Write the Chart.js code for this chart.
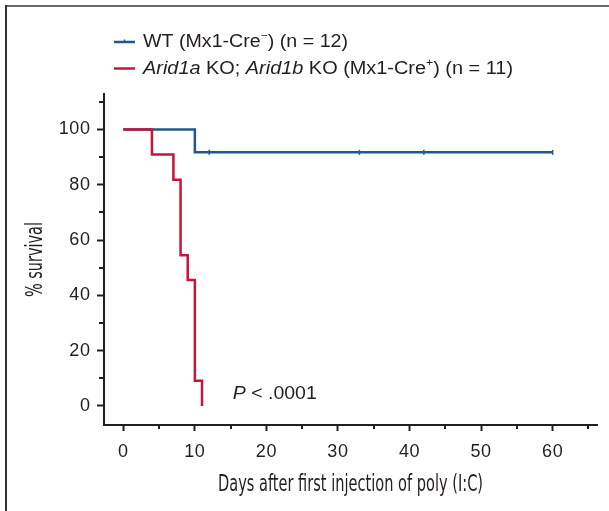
<!DOCTYPE html>
<html>
<head>
<meta charset="utf-8">
<script src="https://cdn.jsdelivr.net/npm/chart.js@4.4.1/dist/chart.umd.min.js"></script>
<style>
html, body { margin: 0; padding: 0; background: #fff; }
#km-wrap { width: 609px; height: 511px; position: relative; }
</style>
</head>
<body>
<div id="km-wrap"><canvas id="kmChart" width="609" height="511"></canvas></div>
<script>
// values
const wtDays = [0, 10, 60];
const wtSurvival = [100, 91.7, 91.7];
const wtCensorDays = [12, 33, 42, 60];
const wtCensorSurvival = [91.7, 91.7, 91.7, 91.7];
const koDays = [0, 4, 7, 8, 9, 10, 11];
const koSurvival = [100, 90.9, 81.8, 54.5, 45.5, 9.1, 0];

const xTicks = [0, 10, 20, 30, 40, 50, 60];
const yTicks = [0, 20, 40, 60, 80, 100];
const xMinorTicks = [5, 15, 25, 35, 45, 55, 65];
const yMinorTicks = [10, 30, 50, 70, 90, 110];

const xTitle = 'Days after first injection of poly (I:C)';
const yTitle = '% survival';
const wtLegend = [{ t: 'WT (Mx1-Cre' }, { t: '\u2212', sup: true }, { t: ') (n = 12)' }];
const koLegend = [{ t: 'Arid1a', it: true }, { t: ' KO; ' }, { t: 'Arid1b', it: true },
                  { t: ' KO (Mx1-Cre' }, { t: '+', sup: true }, { t: ') (n = 11)' }];
const pLabel = [{ t: 'P', it: true }, { t: ' < .0001' }];

const FONT = '"Liberation Sans", Arial, sans-serif';
const NARROW = '"Liberation Sans Narrow", "DejaVu Sans Condensed", "Liberation Sans", sans-serif';
const INK = '#231f20';
const WT_COLOR = '#1f5a8e';
const KO_COLOR = '#c8143a';

function toPoints(xs, ys) {
    return xs.map((x, i) => ({ x: x, y: ys[i] }));
}

function runFont(r, size) {
    const sz = r.sup ? size * 0.62 : size;
    return (r.it ? 'italic ' : '') + sz + 'px ' + FONT;
}

// draws mixed italic / superscript text, stretched to a given width if asked
function drawRuns(ctx, runs, x, y, size, targetWidth) {
    let total = 0;
    runs.forEach(r => { ctx.font = runFont(r, size); total += ctx.measureText(r.t).width; });
    const sx = targetWidth ? targetWidth / total : 1;
    ctx.save();
    ctx.translate(x, y);
    ctx.scale(sx, 1);
    ctx.textAlign = 'left';
    ctx.textBaseline = 'middle';
    let cx = 0;
    runs.forEach(r => {
        ctx.font = runFont(r, size);
        ctx.fillText(r.t, cx, r.sup ? -size * 0.36 : 0);
        cx += ctx.measureText(r.t).width;
    });
    ctx.restore();
}

function drawSqueezed(ctx, text, cx, cy, size, targetWidth, angle) {
    ctx.save();
    ctx.translate(cx, cy);
    ctx.rotate(angle);
    ctx.font = size + 'px ' + NARROW;
    const w = ctx.measureText(text).width;
    ctx.scale(targetWidth / w, 1);
    ctx.textAlign = 'center';
    ctx.textBaseline = 'alphabetic';
    ctx.fillText(text, 0, 0);
    ctx.restore();
}

function seg(ctx, x1, y1, x2, y2) {
    ctx.beginPath();
    ctx.moveTo(x1, y1);
    ctx.lineTo(x2, y2);
    ctx.stroke();
}

const decorPlugin = {
    id: 'decor',
    beforeDraw(chart) {
        // the tick numerals in the figure are a little loosely spaced
        chart.ctx.letterSpacing = '0.6px';
    },
    afterDraw(chart) {
        const ctx = chart.ctx;
        const area = chart.chartArea;
        const xs = chart.scales.x, ys = chart.scales.y;
        ctx.letterSpacing = '0px';
        ctx.save();

        // figure frame (top and left only)
        ctx.lineWidth = 2;
        ctx.strokeStyle = '#6b6b6b';
        seg(ctx, 5, 6, chart.width, 6);
        ctx.strokeStyle = '#333';
        seg(ctx, 6, 5, 6, chart.height);

        // minor ticks
        ctx.strokeStyle = INK;
        ctx.lineWidth = 2;
        xMinorTicks.forEach(v => {
            const px = Math.round(xs.getPixelForValue(v));
            seg(ctx, px, area.bottom, px, area.bottom + 4);
        });
        yMinorTicks.forEach(v => {
            const py = Math.round(ys.getPixelForValue(v));
            seg(ctx, area.left, py, area.left - 5, py);
        });

        // legend
        ctx.lineWidth = 2.5;
        ctx.strokeStyle = WT_COLOR;
        seg(ctx, 114, 42, 135, 42);
        ctx.lineWidth = 1.5;
        seg(ctx, 124.5, 42, 124.5, 39.5);
        ctx.lineWidth = 2.5;
        ctx.strokeStyle = KO_COLOR;
        seg(ctx, 114, 68.5, 135, 68.5);
        ctx.fillStyle = INK;
        drawRuns(ctx, wtLegend, 143, 42, 18, 205);
        drawRuns(ctx, koLegend, 143, 69, 18, 370);

        // p value
        drawRuns(ctx, pLabel, xs.getPixelForValue(15.3), ys.getPixelForValue(4.3), 19, 84);

        // axis titles in a condensed face
        drawSqueezed(ctx, xTitle, 350.5, 490.5, 23, 265, 0);
        drawSqueezed(ctx, yTitle, 42, 259.5, 23, 75, -Math.PI / 2);

        ctx.restore();
    }
};

new Chart(document.getElementById('kmChart'), {
    type: 'line',
    data: {
        datasets: [
            {
                label: 'KO',
                data: toPoints(koDays, koSurvival),
                borderColor: KO_COLOR,
                borderWidth: 2.5,
                stepped: 'before',
                pointRadius: 0,
                fill: false,
                order: 0
            },
            {
                label: 'WT',
                data: toPoints(wtDays, wtSurvival),
                borderColor: WT_COLOR,
                borderWidth: 2.5,
                stepped: 'before',
                pointRadius: 0,
                fill: false,
                order: 1
            },
            {
                label: 'WT censored',
                data: toPoints(wtCensorDays, wtCensorSurvival),
                showLine: false,
                pointStyle: 'line',
                rotation: 90,
                pointRadius: 2.5,
                borderColor: WT_COLOR,
                borderWidth: 1.5,
                order: 2
            }
        ]
    },
    options: {
        responsive: false,
        animation: false,
        devicePixelRatio: 1,
        layout: { padding: { top: 94, right: 12, left: 0, bottom: 0 } },
        plugins: {
            legend: { display: false },
            tooltip: { enabled: false }
        },
        scales: {
            x: {
                type: 'linear',
                min: -2.7,
                max: 66.2,
                afterFit(s) { s.height = 86; },
                afterBuildTicks(s) { s.ticks = xTicks.map(v => ({ value: v })); },
                border: { color: INK, width: 2 },
                grid: { drawOnChartArea: false, drawTicks: true, tickLength: 6, tickWidth: 2, tickColor: INK },
                ticks: { color: INK, padding: 10, maxRotation: 0, font: { family: FONT, size: 18 } }
            },
            y: {
                type: 'linear',
                min: -6.9,
                max: 112.8,
                afterFit(s) { s.width = 104; },
                afterBuildTicks(s) { s.ticks = yTicks.map(v => ({ value: v })); },
                border: { color: INK, width: 2 },
                grid: { drawOnChartArea: false, drawTicks: true, tickLength: 7, tickWidth: 2, tickColor: INK },
                ticks: { color: INK, padding: 6.5, font: { family: FONT, size: 18 } }
            }
        }
    },
    plugins: [decorPlugin]
});
</script>
</body>
</html>
